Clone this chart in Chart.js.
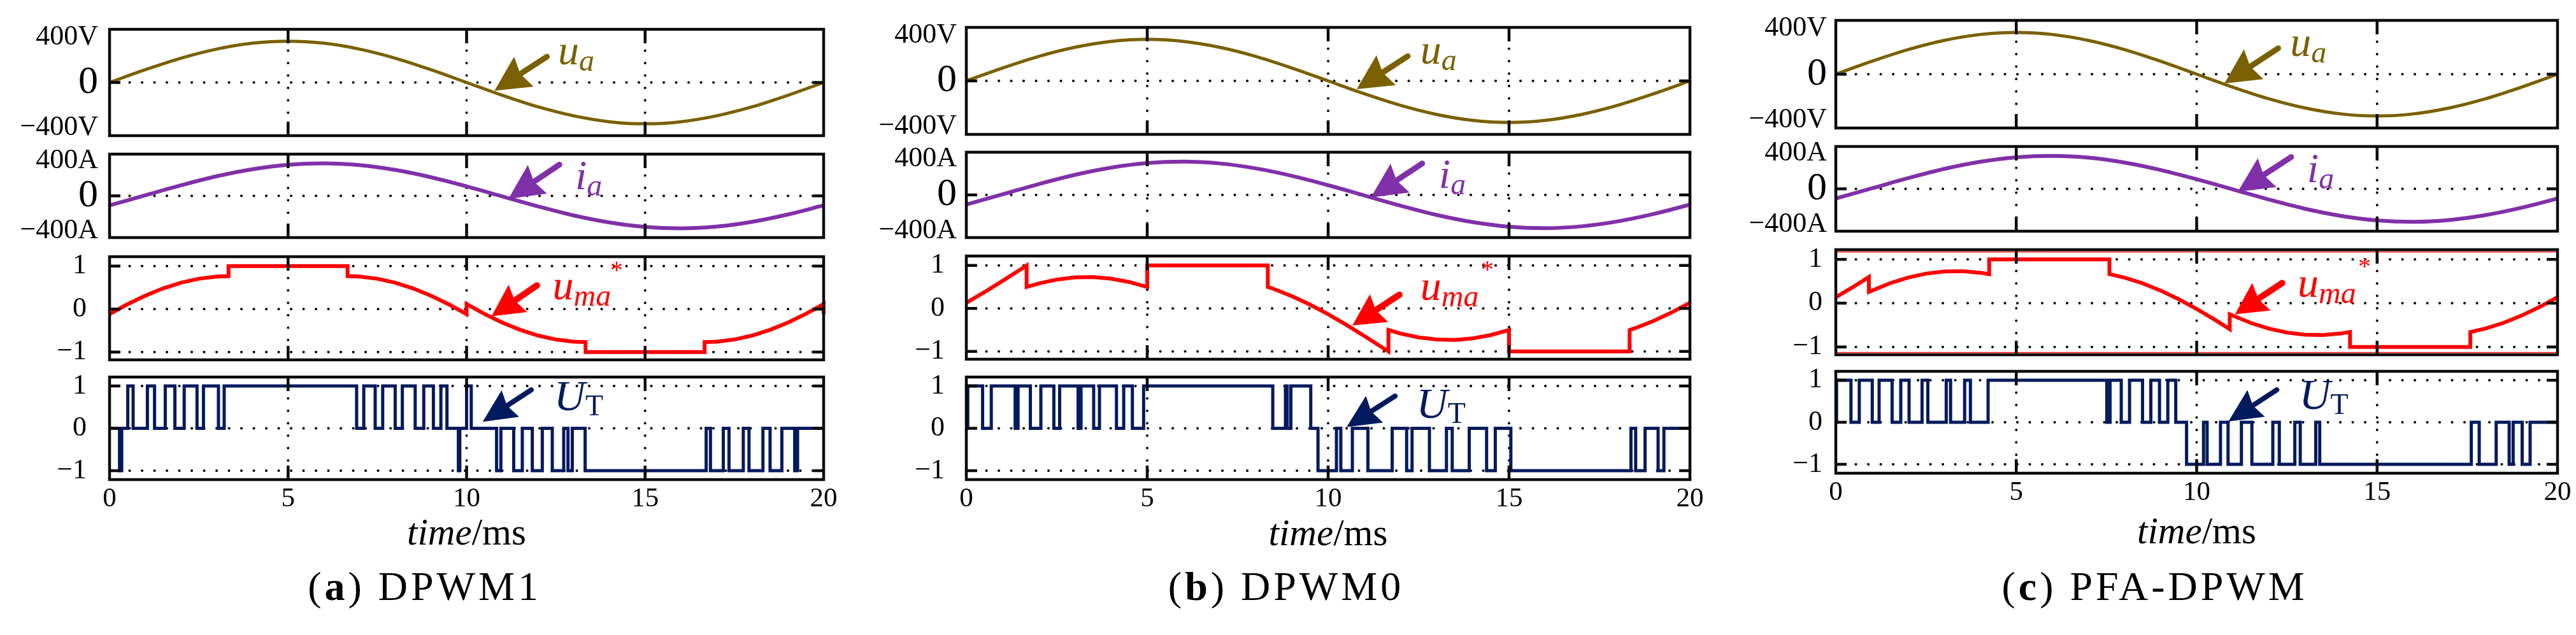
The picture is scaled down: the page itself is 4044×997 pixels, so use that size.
<!DOCTYPE html>
<html>
<head>
<meta charset="utf-8">
<script src="https://cdn.jsdelivr.net/npm/chart.js@4.4.1/dist/chart.umd.min.js"></script>
<style>
html,body{margin:0;padding:0;background:#fff;}
#stage{position:relative;width:4044px;height:997px;overflow:hidden;background:#fff;
  font-family:"Liberation Serif","Times New Roman",serif;color:#000;}
#stage canvas{position:absolute;}
.xt{position:absolute;font-size:59px;line-height:1;white-space:nowrap;transform:translateX(-50%);}
.cap{position:absolute;font-size:64px;line-height:1;white-space:nowrap;transform:translateX(-50%);letter-spacing:5px;}
</style>
</head>
<body>
<div id="stage"></div>
<script>
// ---------------- DATA ----------------
const X_TICKS = [0, 5, 10, 15, 20];
const T_SINE = [0,1,2,3,4,5,6,7,8,9,10,11,12,13,14,15,16,17,18,19,20];
const UA = [0,113,215,295,347,365,347,295,215,113,0,-113,-215,-295,-347,-365,-347,-295,-215,-113,0];
const IA = [-108,6,120,223,303,354,370,350,295,212,108,-6,-120,-223,-303,-354,-370,-350,-295,-212,-108];

const V_TICKS = [-400, 0, 400];
const V_LABELS = ['\u2212400V', '0', '400V'];
const A_TICKS = [-400, 0, 400];
const A_LABELS = ['\u2212400A', '0', '400A'];
const PU_TICKS = [-1, 0, 1];
const PU_LABELS = ['\u22121', '0', '1'];

// modulation wave u_ma* (a) DPWM1
const UMA_A_T = [0,0.5,1,1.5,2,2.5,3,3.333,3.333,6.667,6.667,7,7.5,8,8.5,9,9.5,10,10,10.5,11,11.5,12,12.5,13,13.333,13.333,16.667,16.667,17,17.5,18,18.5,19,19.5,20,20,20.15];
const UMA_A_V = [-0.117,0.112,0.313,0.482,0.614,0.707,0.758,0.767,1,1,0.767,0.757,0.707,0.614,0.482,0.313,0.112,-0.117,0.117,-0.112,-0.313,-0.482,-0.614,-0.707,-0.757,-0.767,-1,-1,-0.767,-0.757,-0.707,-0.614,-0.482,-0.313,-0.112,0.117,-0.117,-0.07];
// (b) DPWM0
const UMA_B_T = [0,0.5,1,1.5,1.667,1.667,2,2.5,3,3.5,4,4.5,5,5,8.333,8.333,8.5,9,9.5,10,10.5,11,11.5,11.667,11.667,12,12.5,13,13.5,14,14.5,15,15,18.333,18.333,18.5,19,19.5,20,20.16];
const UMA_B_V = [0.134,0.380,0.640,0.909,1.0,0.5,0.582,0.673,0.722,0.730,0.694,0.617,0.5,1,1,0.5,0.453,0.287,0.090,-0.134,-0.379,-0.640,-0.909,-1.0,-0.5,-0.582,-0.673,-0.722,-0.730,-0.694,-0.617,-0.5,-1,-1,-0.5,-0.453,-0.287,-0.090,0.134,0.211];
// (c) PFA-DPWM
const UMA_C_T = [0,0.5,0.917,0.917,1.5,2,2.5,3,3.5,4,4.25,4.25,7.583,7.583,8,8.5,9,9.5,10,10.5,10.917,10.917,11.5,12,12.5,13,13.5,14,14.25,14.25,17.583,17.583,18,18.5,19,19.5,20];
const UMA_C_V = [0.134,0.379,0.596,0.256,0.453,0.582,0.673,0.722,0.730,0.694,0.661,1,1,0.661,0.582,0.453,0.287,0.090,-0.134,-0.379,-0.596,-0.256,-0.453,-0.582,-0.673,-0.722,-0.730,-0.694,-0.661,-1,-1,-0.661,-0.582,-0.453,-0.287,-0.090,0.134];

// switching state U_T : level starts at given time
const UT_A_T = [0,0.28,0.34,0.51,0.66,1.06,1.26,1.56,1.83,2.09,2.45,2.63,3.05,3.21,6.92,7.12,7.44,7.65,8.0,8.2,8.56,8.8,9.07,9.28,9.45,9.77,9.81,10.0,10.13,10.84,10.96,11.32,11.56,11.84,12.12,12.4,12.72,12.84,12.96,13.32,16.71,16.83,17.19,17.35,17.75,17.91,18.3,18.5,18.83,19.19,19.27,20];
const UT_A_V = [0,-1,0,1,0,1,0,1,0,1,0,1,0,1,0,1,0,1,0,1,0,1,0,1,0,-1,0,1,0,-1,0,-1,0,-1,0,-1,0,-1,0,-1,0,-1,0,-1,0,-1,0,-1,0,-1,0,0];
const UT_B_T = [0,0.04,0.45,0.69,1.35,1.43,1.77,2.06,2.42,2.58,3.09,3.17,3.52,3.68,4.15,4.35,4.59,4.9,8.47,8.82,8.87,8.97,9.52,9.72,10.23,10.35,10.67,11.1,11.77,12.17,12.32,12.8,13.27,13.43,13.9,14.38,14.62,15.05,18.37,18.5,18.76,19.12,19.28,20];
const UT_B_V = [0,1,0,1,0,1,0,1,0,1,0,1,0,1,0,1,0,1,0,1,0,1,0,-1,0,-1,0,-1,0,-1,0,-1,0,-1,0,-1,0,-1,0,-1,0,-1,0,0];
const UT_C_T = [0,0.02,0.42,0.65,1.01,1.2,1.56,1.8,2.03,2.39,2.55,3.06,3.18,3.57,3.73,4.22,7.51,7.6,7.91,8.14,8.5,8.73,8.97,9.2,9.42,9.72,10.19,10.29,10.66,10.87,11.24,11.53,12.11,12.29,12.72,12.87,13.3,13.41,17.61,17.83,18.3,18.66,18.77,19.02,19.24,20];
const UT_C_V = [0,1,0,1,0,1,0,1,0,1,0,1,0,1,0,1,0,1,0,1,0,1,0,1,0,-1,0,-1,0,-1,0,-1,0,-1,0,-1,0,-1,0,-1,0,-1,0,-1,0,0];

const PANEL_LETTERS = ['a', 'b', 'c'];
const PANEL_NAMES = ['DPWM1', 'DPWM0', 'PFA-DPWM'];

// ---------------- LAYOUT / STYLE ----------------
const FONT = '"Liberation Serif", "Times New Roman", serif';
const C_UA = '#7a6000', C_IA = '#8030a8', C_UMA = '#ff0000', C_UT = '#001a5e';
const LM = 175, RM = 30, TM = 12, BM = 10, XH = 62;
const CAP_BASE = 943;

const GEOM = [
  {x0:172,  x1:1293, rows:[[46,213],[242,373],[403,565],[592,753]], padVA:18, padPU:36, timeBase:855},
  {x0:1517, x1:2653, rows:[[43,211],[239,373],[402,564],[592,753]], padVA:15, padPU:34, timeBase:856},
  {x0:2882, x1:4015, rows:[[32,201],[230,363],[392,557],[583,743]], padVA:14, padPU:21, timeBase:853}
];

// annotation anchors in data units (time ms, value)
const ANNOT = [
  [{tip:[10.78,-73], tail:[12.25,228], label:[12.56,158]},
   {tip:[11.17,-34], tail:[12.6,356], label:[13.04,73]},
   {tip:[10.70,-0.167], tail:[11.97,0.55], label:[12.41,0.23], star:[14.2,1.02]},
   {tip:[10.45,0.155], tail:[11.81,0.907], label:[12.45,0.43]}],
  [{tip:[10.79,-73], tail:[12.2,217], label:[12.55,151]},
   {tip:[11.18,-28], tail:[12.6,350], label:[13.06,78]},
   {tip:[10.67,-0.395], tail:[11.97,0.32], label:[12.55,0.2], star:[14.4,1.01]},
   {tip:[10.51,0.03], tail:[11.85,0.76], label:[12.44,0.255]}],
  [{tip:[10.77,-81], tail:[12.26,227], label:[12.59,159]},
   {tip:[11.14,-33], tail:[12.62,357], label:[13.06,73]},
   {tip:[11.06,-0.257], tail:[12.37,0.459], label:[12.8,0.138], star:[14.65,0.95]},
   {tip:[10.88,0.02], tail:[12.22,0.77], label:[12.84,0.32]}]
];

const LABEL_PARTS = [
  [{text:'u', font:'italic 66px ' + FONT, dy:0}, {text:'a', font:'italic 48px ' + FONT, dy:10}],
  [{text:'i', font:'italic 66px ' + FONT, dy:0}, {text:'a', font:'italic 48px ' + FONT, dy:10}],
  [{text:'u', font:'italic 66px ' + FONT, dy:0}, {text:'ma', font:'italic 48px ' + FONT, dy:10}],
  [{text:'U', font:'italic 68px ' + FONT, dy:0}, {text:'T', font:'46px ' + FONT, dy:8}]
];
const ARROW_SIZE = [[9,55,28],[9,55,27],[10,50,26],[8,52,25]];

Chart.defaults.font.family = FONT;

function pts(ts, vs) { return ts.map((t, i) => ({x: t, y: vs[i]})); }

function drawArrow(ctx, x1, y1, x2, y2, color, shaft, headL, headW) {
  const dx = x2 - x1, dy = y2 - y1, len = Math.hypot(dx, dy);
  const ux = dx / len, uy = dy / len, nx = -uy, ny = ux;
  const bx = x2 - ux * headL, by = y2 - uy * headL;
  ctx.strokeStyle = color; ctx.fillStyle = color;
  ctx.lineWidth = shaft; ctx.lineCap = 'round'; ctx.setLineDash([]);
  ctx.beginPath(); ctx.moveTo(x1, y1); ctx.lineTo(bx + ux * headL * 0.3, by + uy * headL * 0.3); ctx.stroke();
  ctx.beginPath();
  ctx.moveTo(x2, y2);
  ctx.lineTo(bx + nx * headW, by + ny * headW);
  ctx.lineTo(x2 - ux * headL * 0.88, y2 - uy * headL * 0.88);
  ctx.lineTo(bx - nx * headW, by - ny * headW);
  ctx.closePath(); ctx.fill();
}

function overlay(spec) {
  const xGrid = X_TICKS.filter(t => t > X_TICKS[0] && t < X_TICKS[X_TICKS.length - 1]);
  return {
    id: 'overlay',
    beforeDatasetsDraw(chart) {
      const {ctx, chartArea: a} = chart, xs = chart.scales.x, ys = chart.scales.y;
      ctx.save();
      ctx.strokeStyle = '#000'; ctx.lineWidth = 4; ctx.lineCap = 'round';
      ctx.setLineDash([0.1, 19.4]);
      xGrid.forEach(t => {
        const px = xs.getPixelForValue(t);
        ctx.beginPath(); ctx.moveTo(px, a.top + 14); ctx.lineTo(px, a.bottom - 2); ctx.stroke();
      });
      spec.grid.forEach(v => {
        const py = ys.getPixelForValue(v);
        ctx.beginPath(); ctx.moveTo(a.left + 12, py); ctx.lineTo(a.right - 2, py); ctx.stroke();
      });
      ctx.restore();
    },
    afterDatasetsDraw(chart) {
      const {ctx, chartArea: a} = chart, xs = chart.scales.x, ys = chart.scales.y;
      ctx.save();
      if (spec.redEdge) {
        ctx.strokeStyle = C_UMA; ctx.lineWidth = 1.6;
        ctx.beginPath();
        ctx.moveTo(a.left, a.top + 3.5); ctx.lineTo(a.right, a.top + 3.5);
        ctx.moveTo(a.left, a.bottom - 3.5); ctx.lineTo(a.right, a.bottom - 3.5);
        ctx.stroke();
      }
      ctx.strokeStyle = '#0a0a0a'; ctx.lineWidth = 4.5; ctx.lineCap = 'butt'; ctx.setLineDash([]);
      xGrid.forEach(t => {
        const px = xs.getPixelForValue(t);
        ctx.beginPath();
        ctx.moveTo(px, a.top); ctx.lineTo(px, a.top + 22);
        ctx.moveTo(px, a.bottom); ctx.lineTo(px, a.bottom - 22);
        ctx.stroke();
      });
      spec.grid.forEach(v => {
        const py = ys.getPixelForValue(v);
        ctx.beginPath();
        ctx.moveTo(a.left, py); ctx.lineTo(a.left + 17, py);
        ctx.moveTo(a.right, py); ctx.lineTo(a.right - 17, py);
        ctx.stroke();
      });
      ctx.lineJoin = 'miter';
      ctx.strokeRect(a.left, a.top, a.right - a.left, a.bottom - a.top);
      const an = spec.ann;
      if (an) {
        const P = p => [xs.getPixelForValue(p[0]), ys.getPixelForValue(p[1])];
        const [tx, ty] = P(an.tail), [hx, hy] = P(an.tip);
        drawArrow(ctx, tx, ty, hx, hy, spec.color, spec.arrow[0], spec.arrow[1], spec.arrow[2]);
        let [lx, ly] = P(an.label);
        ctx.fillStyle = spec.color; ctx.textBaseline = 'alphabetic'; ctx.textAlign = 'left';
        spec.parts.forEach(p => {
          ctx.font = p.font; ctx.fillText(p.text, lx, ly + p.dy);
          lx += ctx.measureText(p.text).width;
        });
        if (an.star) {
          const [sx, sy] = P(an.star);
          ctx.font = '40px ' + FONT; ctx.textAlign = 'center';
          ctx.fillText('*', sx, sy + 20);
        }
      }
      ctx.restore();
    }
  };
}

const stage = document.getElementById('stage');

const PANEL_DATA = [
  {uma:[UMA_A_T, UMA_A_V], ut:[UT_A_T, UT_A_V]},
  {uma:[UMA_B_T, UMA_B_V], ut:[UT_B_T, UT_B_V]},
  {uma:[UMA_C_T, UMA_C_V], ut:[UT_C_T, UT_C_V]}
];

PANEL_DATA.forEach((pd, pi) => {
  const G = GEOM[pi];
  const subs = [
    {data: pts(T_SINE, UA), color: C_UA, width: 5, mode: 'sine', yr: [-470, 470], ticks: V_TICKS, labels: V_LABELS, big0: true, grid: [0], pad: G.padVA},
    {data: pts(T_SINE, IA), color: C_IA, width: 6, mode: 'sine', yr: [-475, 475], ticks: A_TICKS, labels: A_LABELS, big0: true, grid: [0], pad: G.padVA},
    {data: pts(pd.uma[0], pd.uma[1]), color: C_UMA, width: 6, mode: 'lin', yr: [-1.18, 1.22], ticks: PU_TICKS, labels: PU_LABELS, big0: false, grid: PU_TICKS, pad: G.padPU, redEdge: pi === 2},
    {data: pts(pd.ut[0], pd.ut[1]), color: C_UT, width: 5, mode: 'step', yr: [-1.21, 1.21], ticks: PU_TICKS, labels: PU_LABELS, big0: false, grid: PU_TICKS, pad: G.padPU}
  ];
  subs.forEach((s, r) => {
    const [top, bot] = G.rows[r];
    const isBottom = r === 3;
    const W = LM + (G.x1 - G.x0) + RM;
    const H = TM + (bot - top) + BM + (isBottom ? XH : 0);
    const cv = document.createElement('canvas');
    cv.width = W; cv.height = H;
    cv.style.left = (G.x0 - LM) + 'px'; cv.style.top = (top - TM) + 'px';
    cv.style.width = W + 'px'; cv.style.height = H + 'px';
    stage.appendChild(cv);
    const ds = {
      data: s.data, borderColor: s.color, borderWidth: s.width, pointRadius: 0,
      fill: false, borderCapStyle: 'butt', borderJoinStyle: 'miter',
      clip: {left: 4, top: 4, right: 16, bottom: 4}
    };
    if (s.mode === 'sine') { ds.cubicInterpolationMode = 'monotone'; ds.tension = 0.4; }
    else if (s.mode === 'step') { ds.stepped = 'before'; ds.tension = 0; }
    else { ds.tension = 0; }
    new Chart(cv, {
      type: 'line',
      data: {datasets: [ds]},
      options: {
        responsive: false, maintainAspectRatio: false, animation: false, devicePixelRatio: 1, events: [],
        layout: {padding: {left: 0, right: RM, top: TM, bottom: BM}},
        plugins: {legend: {display: false}, tooltip: {enabled: false}, title: {display: false}},
        scales: {
          x: {
            type: 'linear', min: X_TICKS[0], max: X_TICKS[X_TICKS.length - 1], display: isBottom,
            grid: {display: false, drawTicks: false}, border: {display: false},
            ticks: {autoSkip: false, maxRotation: 0, minRotation: 0, padding: 5, color: '#000',
                    font: {family: FONT, size: 43}},
            afterBuildTicks: sc => { sc.ticks = X_TICKS.map(v => ({value: v})); },
            afterFit: sc => { if (isBottom) sc.height = XH; sc.paddingLeft = 0; sc.paddingRight = 0; sc.paddingTop = 0; sc.paddingBottom = 0; }
          },
          y: {
            type: 'linear', min: s.yr[0], max: s.yr[1],
            grid: {display: false, drawTicks: false}, border: {display: false},
            ticks: {autoSkip: false, padding: s.pad, color: '#000',
                    font: ctx => ({family: FONT, size: (s.big0 && ctx.tick && ctx.tick.value === 0) ? 62 : 44}),
                    callback: (v, i) => s.labels[i]},
            afterBuildTicks: sc => { sc.ticks = s.ticks.map(v => ({value: v})); },
            afterFit: sc => { sc.width = LM; sc.paddingTop = 0; sc.paddingBottom = 0; sc.paddingLeft = 0; sc.paddingRight = 0; }
          }
        }
      },
      plugins: [overlay({grid: s.grid, redEdge: !!s.redEdge, ann: ANNOT[pi][r], color: s.color, parts: LABEL_PARTS[r], arrow: ARROW_SIZE[r]})]
    });
  });
  // axis title
  const xt = document.createElement('div');
  xt.className = 'xt';
  xt.innerHTML = '<i>time</i>/ms';
  xt.style.left = ((G.x0 + G.x1) / 2) + 'px';
  xt.style.top = (G.timeBase - 0.8375 * 59) + 'px';
  stage.appendChild(xt);
  // caption
  const cap = document.createElement('div');
  cap.className = 'cap';
  cap.innerHTML = '(<b>' + PANEL_LETTERS[pi] + '</b>) ' + PANEL_NAMES[pi];
  cap.style.left = ((G.x0 + G.x1) / 2 - 66) + 'px';
  cap.style.top = (CAP_BASE - 0.8375 * 64) + 'px';
  stage.appendChild(cap);
});
</script>
</body>
</html>
